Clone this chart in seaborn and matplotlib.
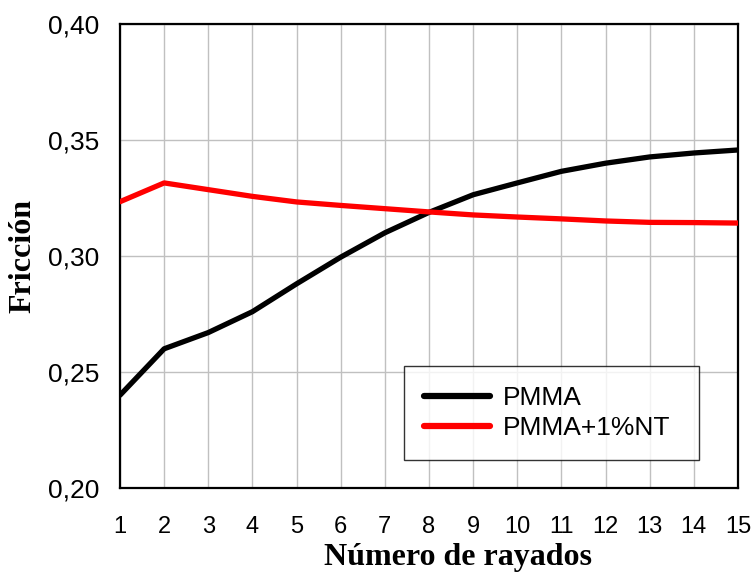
import numpy as np
import pandas as pd
import seaborn as sns
import matplotlib.pyplot as plt
from matplotlib.ticker import FuncFormatter, MultipleLocator

# Data
rayados = list(range(1, 16))
pmma = [0.240, 0.260, 0.267, 0.276, 0.288, 0.2995, 0.310, 0.3188, 0.3264,
        0.3315, 0.3365, 0.340, 0.3427, 0.3444, 0.3457]
pmma_nt = [0.3234, 0.3315, 0.3286, 0.3257, 0.3233, 0.3218, 0.3204, 0.319,
           0.3177, 0.3168, 0.316, 0.3151, 0.3145, 0.3144, 0.3142]
series_names = ["PMMA", "PMMA+1%NT"]

df = pd.concat([
    pd.DataFrame({"rayados": rayados, "friccion": pmma, "serie": series_names[0]}),
    pd.DataFrame({"rayados": rayados, "friccion": pmma_nt, "serie": series_names[1]}),
])

sns.set_theme(style="white")
plt.rcParams['font.family'] = ['Liberation Sans', 'DejaVu Sans']
plt.rcParams['text.color'] = 'black'
plt.rcParams['axes.labelcolor'] = 'black'

fig = plt.figure(figsize=(7.52, 5.74), dpi=100)
ax = fig.add_axes([120 / 752, 1 - 488 / 574, 618 / 752, 464 / 574])

sns.lineplot(data=df, x="rayados", y="friccion", hue="serie",
             palette=["#000000", "#ff0000"], linewidth=3.8, ax=ax,
             solid_capstyle="round", zorder=3)

ax.set_xlim(1, 15)
ax.set_ylim(0.20, 0.40)
ax.xaxis.set_major_locator(MultipleLocator(1))
ax.yaxis.set_major_locator(MultipleLocator(0.05))
ax.yaxis.set_major_formatter(FuncFormatter(lambda v, p: f"{v:.2f}".replace(".", ",")))

ax.grid(True, color="#c0c0c0", linewidth=1.0)
for s in ax.spines.values():
    s.set_color("black")
    s.set_linewidth(1.6)
    s.set_visible(True)

ax.tick_params(axis="both", direction="out", length=5, width=1.2,
               color="black", labelcolor="black")
ax.tick_params(axis="x", labelsize=17, pad=15)
ax.tick_params(axis="y", labelsize=19, pad=10)

ax.set_xlabel("Número de rayados", fontsize=23, fontweight="bold",
              family="Liberation Serif", va="baseline", color="black")
ax.xaxis.set_label_coords(0.547, -0.166)
ax.set_ylabel("Fricción", fontsize=23, fontweight="bold",
              family="Liberation Serif", va="center", color="black")
ax.yaxis.set_label_coords(-0.157, 0.5)

leg = ax.legend(loc="lower left", bbox_to_anchor=(0.4595, 0.060, 0.4775, 0.222),
                mode="expand", fontsize=19, frameon=True, fancybox=False,
                edgecolor="black", handlelength=2.5, handletextpad=0.5,
                borderpad=0.75, labelspacing=0.25, borderaxespad=0)
leg.get_frame().set_linewidth(1.0)
for text in leg.get_texts():
    text.set_color("black")
for line in leg.get_lines():
    line.set_linewidth(4.5)
    line.set_solid_capstyle("round")

plt.savefig("out.png", dpi=100)
